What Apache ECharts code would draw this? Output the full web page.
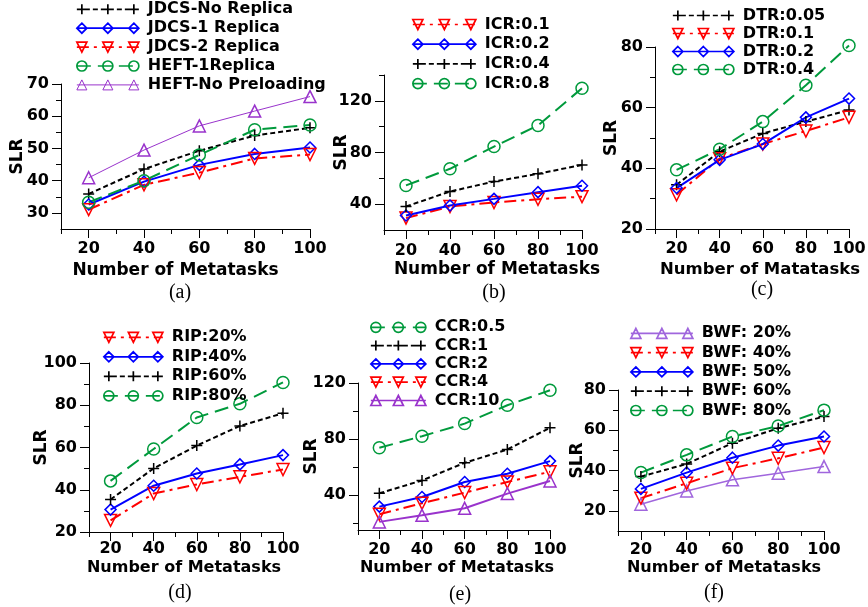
<!DOCTYPE html>
<html lang="en">
<head>
<meta charset="UTF-8">
<title>SLR vs Number of Metatasks</title>
<script src="https://cdn.jsdelivr.net/npm/echarts@6/dist/echarts.min.js"></script>
<style>html,body{margin:0;padding:0;background:#fff}</style>
</head>
<body>
<div id="main" style="width:868px;height:607px"></div>
<script>
// x values shared by every panel
var metatasks = [20, 40, 60, 80, 100];
var xLabelValues = [20, 40, 60, 80, 100];
var xMinorValues = [10, 30, 50, 70, 90];

// (a)
var jdcsNoReplica = [35.9, 43.6, 49.3, 54.0, 56.4];
var jdcs1Replica  = [32.6, 39.7, 44.9, 48.3, 50.3];
var jdcs2Replica  = [31.0, 38.7, 42.5, 46.9, 48.1];
var heft1Replica  = [33.3, 40.0, 48.0, 55.8, 57.3];
var heftNoPreload = [40.9, 49.5, 57.0, 61.6, 66.1];
// (b)
var icr01 = [29.2, 38.2, 41.3, 43.8, 45.8];
var icr02 = [31.2, 39.0, 44.1, 49.3, 54.3];
var icr04 = [38.2, 49.8, 57.5, 63.5, 70.4];
var icr08 = [54.5, 67.4, 84.6, 100.9, 129.8];
// (c)
var dtr005 = [34.6, 45.5, 51.5, 55.4, 59.2];
var dtr01  = [31.3, 43.2, 48.0, 52.3, 56.8];
var dtr02  = [33.5, 42.8, 48.0, 56.8, 63.0];
var dtr04  = [39.5, 46.3, 55.4, 67.4, 80.5];
// (d)
var rip20 = [25.5, 38.2, 42.5, 46.1, 49.6];
var rip40 = [30.6, 41.9, 47.7, 52.0, 56.4];
var rip60 = [35.4, 50.1, 60.9, 70.2, 76.2];
var rip80 = [44.2, 59.3, 74.2, 80.7, 90.8];
// (e)
var ccr05 = [73.7, 82.0, 91.0, 104.1, 114.8];
var ccr1  = [41.2, 50.4, 63.0, 72.5, 88.0];
var ccr2  = [31.7, 38.6, 49.3, 55.2, 64.2];
var ccr4  = [26.2, 34.1, 41.7, 49.3, 56.6];
var ccr10 = [20.8, 25.5, 30.5, 41.0, 50.0];
// (f)
var bwf20 = [23.3, 29.9, 35.4, 38.7, 42.0];
var bwf40 = [26.3, 33.7, 41.2, 46.1, 51.4];
var bwf50 = [30.9, 39.0, 46.4, 52.4, 56.9];
var bwf60 = [37.0, 43.3, 53.6, 61.0, 66.8];
var bwf80 = [39.0, 47.8, 56.9, 62.1, 70.0];

// y tick values (labelled / unlabelled) per panel
var yLabelsA = [30, 40, 50, 60, 70],   yMinorA = [35, 45, 55, 65];
var yLabelsB = [40, 80, 120],          yMinorB = [60, 100, 140];
var yLabelsC = [20, 40, 60, 80],       yMinorC = [30, 50, 70];
var yLabelsD = [20, 40, 60, 80, 100],  yMinorD = [30, 50, 70, 90];
var yLabelsE = [40, 80, 120],          yMinorE = [20, 60, 100];
var yLabelsF = [20, 40, 60, 80],       yMinorF = [30, 50, 70];

var FONT = "'DejaVu Sans', sans-serif";

var BLACK  = {color: '#000000', dash: [5, 3], width: 2, marker: 'plus', size: 11};
var BLUE   = {color: '#0000ff', dash: null, width: 2, marker: 'diamond', size: 11};
var RED    = {color: '#ff0000', dash: [12, 5, 3, 5], width: 2, marker: 'down', size: 12};
var GREEN  = {color: '#009a3c', dash: [14, 7], width: 2, marker: 'circle', size: 12};
var PURPLE = {color: '#9933cc', dash: null, width: 1, marker: 'up', size: 12};
var PURPLE2 = {color: '#9933cc', dash: null, width: 2, marker: 'up', size: 12};
var LILAC  = {color: '#a066dd', dash: null, width: 1.5, marker: 'up', size: 12};

function markerPath(type, c) {
    if (type === 'plus') return 'M' + c + ',0L' + c + ',10M' + (c - 5) + ',5L' + (c + 5) + ',5';
    if (type === 'diamond') return 'M' + c + ',0L' + (c + 5) + ',5L' + c + ',10L' + (c - 5) + ',5Z';
    if (type === 'circle') return 'M' + (c - 5) + ',5A5,5,0,1,1,' + (c + 5) + ',5A5,5,0,1,1,' + (c - 5) + ',5Z';
    if (type === 'up') return 'M' + c + ',0L' + (c + 5) + ',10L' + (c - 5) + ',10Z';
    return 'M' + (c - 5) + ',0L' + (c + 5) + ',0L' + c + ',10Z';
}

// legend sample: line with three markers, like the original figure
function legendIcon(st, w) {
    var d = '';
    if (!st.dash) {
        d += 'M0,5L' + w + ',5';
    } else {
        var x = 0, i = 0;
        while (x < w) {
            var x2 = Math.min(w, x + st.dash[i % st.dash.length]);
            if (i % 2 === 0) d += 'M' + x + ',5L' + x2 + ',5';
            x = x2; i++;
        }
    }
    d += markerPath(st.marker, 5) + markerPath(st.marker, w / 2) + markerPath(st.marker, w - 5);
    return 'path://' + d;
}

var panels = [
    {grid: {left: 61, top: 84, width: 249, height: 145}, yMin: 25, yMax: 70, yLabels: yLabelsA, yMinor: yMinorA,
     xName: 'Number of Metatasks', nameSize: 17, nameShift: -10, nameGap: 33, xMargin: 12, slrGap: 35,
     caption: '(a)', cap: [180, 293], lg: {left: 76, top: 1.3, w: 62, gap: 2.9},
     lines: [['JDCS-No Replica', jdcsNoReplica, BLACK], ['JDCS-1 Replica', jdcs1Replica, BLUE],
             ['JDCS-2 Replica', jdcs2Replica, RED], ['HEFT-1Replica', heft1Replica, GREEN],
             ['HEFT-No Preloading', heftNoPreload, PURPLE]]},
    {grid: {left: 384, top: 75, width: 198, height: 155}, yMin: 20, yMax: 140, yLabels: yLabelsB, yMinor: yMinorB,
     xName: 'Number of Metatasks', nameSize: 17, nameShift: 14, nameGap: 31, xMargin: 13, slrGap: 34,
     caption: '(b)', cap: [494, 293], lg: {left: 412, top: 16.5, w: 63, gap: 3.7},
     lines: [['ICR:0.1', icr01, RED], ['ICR:0.2', icr02, BLUE], ['ICR:0.4', icr04, BLACK], ['ICR:0.8', icr08, GREEN]]},
    {grid: {left: 655, top: 47, width: 194, height: 182}, yMin: 20, yMax: 80, yLabels: yLabelsC, yMinor: yMinorC,
     xName: 'Number of Matatasks', nameSize: 16.5, nameShift: 8, nameGap: 32, xMargin: 12, slrGap: 35,
     caption: '(c)', cap: [762, 290], lg: {left: 672, top: 7.5, w: 61, gap: 2},
     lines: [['DTR:0.05', dtr005, BLACK], ['DTR:0.1', dtr01, RED], ['DTR:0.2', dtr02, BLUE], ['DTR:0.4', dtr04, GREEN]]},
    {grid: {left: 89, top: 363, width: 194, height: 169}, yMin: 20, yMax: 100, yLabels: yLabelsD, yMinor: yMinorD,
     xName: 'Number of Metatasks', nameSize: 16, nameShift: -2, nameGap: 28, xMargin: 9, slrGap: 39,
     caption: '(d)', cap: [180, 593], lg: {left: 103, top: 329.3, w: 59, gap: 3.5},
     lines: [['RIP:20%', rip20, RED], ['RIP:40%', rip40, BLUE], ['RIP:60%', rip60, BLACK], ['RIP:80%', rip80, GREEN]]},
    {grid: {left: 358, top: 383, width: 192, height: 147}, yMin: 15, yMax: 120, yLabels: yLabelsE, yMinor: yMinorE,
     xName: 'Number of Metatasks', nameSize: 16, nameShift: 3, nameGap: 30, xMargin: 12, slrGap: 38,
     caption: '(e)', cap: [460, 595], lg: {left: 370, top: 319.3, w: 55, gap: 2.3},
     lines: [['CCR:0.5', ccr05, GREEN], ['CCR:1', ccr1, BLACK], ['CCR:2', ccr2, BLUE], ['CCR:4', ccr4, RED], ['CCR:10', ccr10, PURPLE2]]},
    {grid: {left: 618, top: 390, width: 206, height: 141}, yMin: 10, yMax: 80, yLabels: yLabelsF, yMinor: yMinorF,
     xName: 'Number of Metatasks', nameSize: 16, nameShift: 3, nameGap: 29, xMargin: 11, slrGap: 32,
     caption: '(f)', cap: [714, 593], lg: {left: 630, top: 325.3, w: 62, gap: 3.3},
     lines: [['BWF: 20%', bwf20, LILAC], ['BWF: 40%', bwf40, RED], ['BWF: 50%', bwf50, BLUE], ['BWF: 60%', bwf60, BLACK], ['BWF: 80%', bwf80, GREEN]]}
];

var labelStyle = {fontFamily: FONT, fontWeight: 'bold', fontSize: 16, color: '#000'};
var axisLineStyle = {color: '#000', width: 1};

var option = {
    animation: false,
    backgroundColor: '#fff',
    grid: [], xAxis: [], yAxis: [], legend: [], series: [], graphic: []
};

panels.forEach(function (p, i) {
    var g = p.grid;
    option.grid.push({left: g.left, top: g.top, width: g.width, height: g.height, containLabel: false, outerBoundsMode: 'none'});

    var pad = p.nameShift < 0 ? [0, -2 * p.nameShift, 0, 0] : [0, 0, 0, 2 * p.nameShift];
    // main axes: labelled ticks
    option.xAxis.push({
        gridIndex: i, type: 'value', position: 'bottom', min: 10, max: 100,
        axisLine: {show: true, onZero: false, lineStyle: axisLineStyle},
        axisTick: {show: true, customValues: xLabelValues, length: 9, lineStyle: axisLineStyle},
        axisLabel: Object.assign({customValues: xLabelValues, margin: p.xMargin}, labelStyle),
        splitLine: {show: false},
        name: p.xName, nameLocation: 'middle', nameGap: p.nameGap, nameMoveOverlap: false,
        nameTextStyle: {fontFamily: FONT, fontWeight: 'bold', fontSize: p.nameSize, color: '#000', padding: pad}
    });
    option.yAxis.push({
        gridIndex: i, type: 'value', position: 'left', min: p.yMin, max: p.yMax,
        axisLine: {show: true, onZero: false, lineStyle: axisLineStyle},
        axisTick: {show: true, customValues: p.yLabels, length: 9, lineStyle: axisLineStyle},
        axisLabel: Object.assign({customValues: p.yLabels, margin: 12}, labelStyle),
        splitLine: {show: false},
        name: 'SLR', nameLocation: 'middle', nameRotate: 90, nameGap: p.slrGap, nameMoveOverlap: false,
        nameTextStyle: {fontFamily: FONT, fontWeight: 'bold', fontSize: 17, color: '#000'}
    });
    option.graphic.push({
        type: 'text', x: p.cap[0], y: p.cap[1],
        style: {text: p.caption, fill: '#000', font: "20px 'Liberation Serif', serif", align: 'center', verticalAlign: 'middle'}
    });
});

// second axes per grid: the short unlabelled ticks
panels.forEach(function (p, i) {
    option.xAxis.push({
        gridIndex: i, type: 'value', position: 'bottom', min: 10, max: 100,
        axisLine: {show: false}, axisLabel: {show: false}, splitLine: {show: false},
        axisTick: {show: true, customValues: xMinorValues, length: 5, lineStyle: axisLineStyle}
    });
    option.yAxis.push({
        gridIndex: i, type: 'value', position: 'left', min: p.yMin, max: p.yMax,
        axisLine: {show: false}, axisLabel: {show: false}, splitLine: {show: false},
        axisTick: {show: true, customValues: p.yMinor, length: 5, lineStyle: axisLineStyle}
    });
});

panels.forEach(function (p, i) {
    var lgData = [];
    p.lines.forEach(function (ln) {
        var st = ln[2];
        option.series.push({
            name: ln[0], type: 'line', xAxisIndex: i, yAxisIndex: i,
            data: metatasks.map(function (x, k) { return [x, ln[1][k]]; }),
            symbol: 'path://' + markerPath(st.marker, 5),
            symbolSize: st.size,
            clip: false,
            lineStyle: {color: st.color, width: st.width, type: st.dash || 'solid'},
            itemStyle: {color: 'transparent', borderColor: st.color, borderWidth: 1.5},
            emphasis: {disabled: true}
        });
        lgData.push({
            name: ln[0], icon: legendIcon(st, p.lg.w),
            itemStyle: {color: 'transparent', borderColor: st.color, borderWidth: st.width < 1.5 ? 1 : 1.7}
        });
    });
    option.legend.push({
        orient: 'vertical', left: p.lg.left, top: p.lg.top, padding: 0,
        itemWidth: p.lg.w, itemHeight: 10, itemGap: p.lg.gap, selectedMode: false,
        textStyle: {fontFamily: FONT, fontWeight: 'bold', fontSize: 16, color: '#000', lineHeight: 16, padding: [0, 0, 0, 4]},
        data: lgData
    });
});

var chart = echarts.init(document.getElementById('main'), null, {renderer: 'canvas'});
chart.setOption(option);
</script>
</body>
</html>
